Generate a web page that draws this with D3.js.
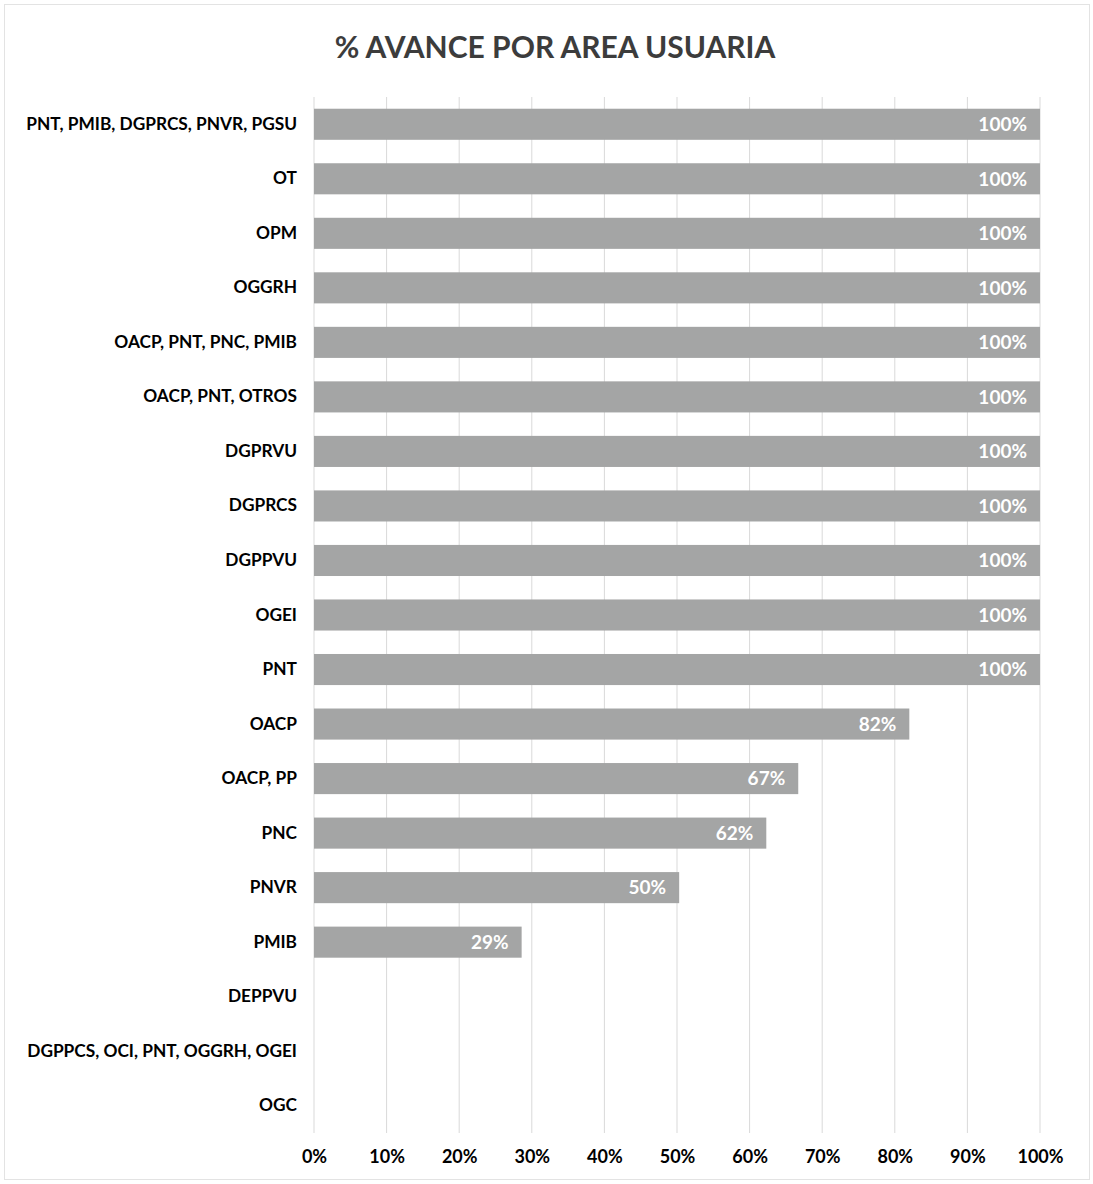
<!DOCTYPE html>
<html><head><meta charset="utf-8">
<script src="https://cdn.jsdelivr.net/npm/d3@7"></script>
<style>
html,body{margin:0;padding:0;background:#fff;}
svg{display:block;}
</style></head>
<body>
<svg id="chart" width="1093" height="1184"></svg>
<script>
const title = "% AVANCE POR AREA USUARIA";
const categories = ["PNT, PMIB, DGPRCS, PNVR, PGSU","OT","OPM","OGGRH","OACP, PNT, PNC, PMIB","OACP, PNT, OTROS","DGPRVU","DGPRCS","DGPPVU","OGEI","PNT","OACP","OACP, PP","PNC","PNVR","PMIB","DEPPVU","DGPPCS, OCI, PNT, OGGRH, OGEI","OGC"];
const values = [1,1,1,1,1,1,1,1,1,1,1,0.82,0.667,0.623,0.503,0.286,0,0,0];
const tickValues = [0,0.1,0.2,0.3,0.4,0.5,0.6,0.7,0.8,0.9,1];

const svg = d3.select("#chart");
const font = "Lato, 'Open Sans', sans-serif";
// border
svg.append("rect").attr("x",4.5).attr("y",4.5).attr("width",1085).attr("height",1175)
  .attr("fill","none").attr("stroke","#e3e3e3").attr("stroke-width",1);

svg.append("text").attr("x",555).attr("y",58).attr("text-anchor","middle")
  .attr("font-family",font).attr("font-weight","bold").attr("font-size",30)
  .attr("fill","#3c3c3c").text(title);

const x = d3.scaleLinear().domain([0,1]).range([314,1040]);
const y = d3.scaleBand().domain(categories).range([97,1133]).paddingInner(0.43).paddingOuter(0.215);

// gridlines
svg.append("g").selectAll("line").data(tickValues).join("line")
  .attr("x1",d=>x(d)).attr("x2",d=>x(d)).attr("y1",97).attr("y2",1133)
  .attr("stroke","#d9d9d9").attr("stroke-width",1);

// bars
svg.append("g").selectAll("rect").data(categories).join("rect")
  .attr("x",x(0)).attr("y",d=>y(d)).attr("height",y.bandwidth())
  .attr("width",(d,i)=>x(values[i])-x(0))
  .attr("fill","#a4a5a5");

// value labels
const fmt = d3.format(".0%");
svg.append("g").selectAll("text").data(categories.filter((d,i)=>values[i]>0)).join("text")
  .attr("x",d=>x(values[categories.indexOf(d)])-13)
  .attr("y",d=>y(d)+y.bandwidth()/2)
  .attr("dy","0.36em").attr("text-anchor","end")
  .attr("font-family",font).attr("font-weight","bold").attr("font-size",19)
  .attr("fill","#ffffff")
  .text(d=>fmt(values[categories.indexOf(d)]));

// y axis labels
const yAxis = d3.axisLeft(y).tickSize(0).tickPadding(17);
const gy = svg.append("g").attr("transform","translate(314,0)").call(yAxis);
gy.select(".domain").remove();
gy.selectAll("text").attr("font-family",font).attr("font-weight","bold").attr("font-size",17.3).attr("fill","#000");

// x axis labels
const xAxis = d3.axisBottom(x).tickValues(tickValues).tickFormat(d3.format(".0%")).tickSize(0).tickPadding(17);
const gx = svg.append("g").attr("transform","translate(0,1133)").call(xAxis);
gx.select(".domain").remove();
gx.selectAll("text").attr("font-family",font).attr("font-weight","bold").attr("font-size",18).attr("fill","#000");
</script>
</body></html>
